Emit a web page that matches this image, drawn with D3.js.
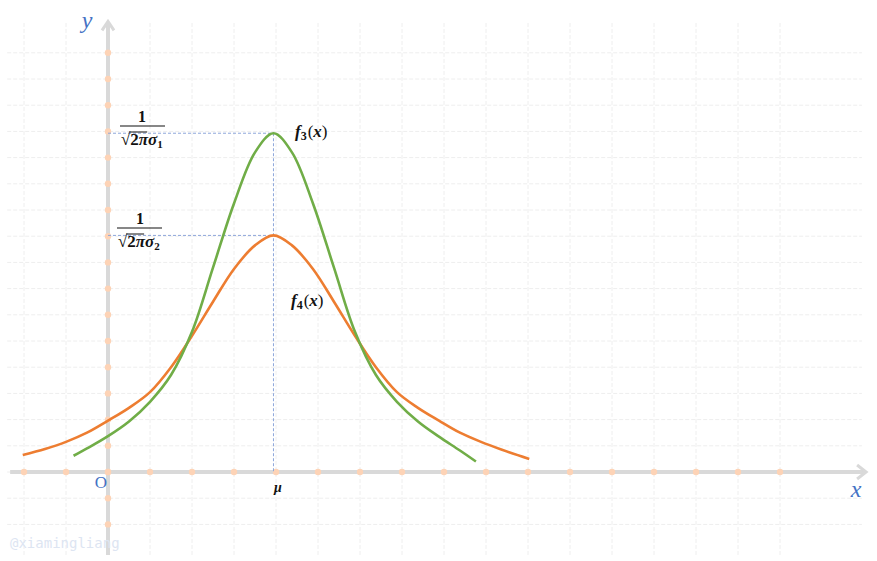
<!DOCTYPE html>
<html>
<head>
<meta charset="utf-8">
<script src="https://d3js.org/d3.v7.min.js"></script>
<style>
  body { margin: 0; background: #fff; }
  svg { display: block; }
  .math { font-family: "Liberation Serif", "DejaVu Serif", serif; font-weight: bold; fill: #111; }
</style>
</head>
<body>
<div id="chart"></div>
<script>
// curve f3 (green)
var f3X = [-0.82, -0.5, 0, 0.5, 1, 1.5, 2, 2.5, 3, 3.5, 3.94, 4.38, 4.88, 5.38, 5.88, 6.38, 6.88, 7.38, 7.88, 8.38, 8.76];
var f3Y = [0.62, 0.9, 1.37, 1.93, 2.68, 3.7, 5.35, 7.8, 10.25, 12.2, 12.93, 12.2, 10.25, 7.8, 5.35, 3.7, 2.68, 1.93, 1.35, 0.82, 0.4];
// curve f4 (orange)
var f4X = [-2.03, -1.5, -1, -0.5, 0, 0.5, 1, 1.5, 2, 2.5, 3, 3.5, 3.94, 4.38, 4.88, 5.38, 5.88, 6.38, 6.88, 7.38, 7.88, 8.38, 8.88, 9.38, 10.03];
var f4Y = [0.65, 0.88, 1.15, 1.5, 1.96, 2.45, 3.05, 4.0, 5.2, 6.5, 7.75, 8.65, 9.03, 8.65, 7.75, 6.5, 5.2, 4.0, 3.05, 2.45, 1.96, 1.5, 1.15, 0.85, 0.5];
var mu = 3.94;
var peaks = [12.93, 9.03];
var ticks = d3.range(-2, 17);   // grid lines and dots

var width = 877, height = 561;

var svg = d3.select("#chart").append("svg")
  .attr("width", width).attr("height", height);

// one unit = 42px across, 26.2px up
var x = d3.scaleLinear().domain([-2, 16]).range([24, 780]);
var y = d3.scaleLinear().domain([-2, 16]).range([524.4, 52.8]);

// grid
var grid = svg.append("g")
  .attr("stroke", "#eeeeee").attr("stroke-width", 1).attr("stroke-dasharray", "4,2");
grid.selectAll(".gv").data(ticks).enter().append("line")
  .attr("x1", d => x(d)).attr("x2", d => x(d))
  .attr("y1", y(17.14)).attr("y2", y(-3.17));
grid.selectAll(".gh").data(ticks).enter().append("line")
  .attr("y1", d => y(d)).attr("y2", d => y(d))
  .attr("x1", x(-2.4)).attr("x2", x(17.95));

// axes
var axisColor = "#d9d9d9";
svg.append("line")
  .attr("x1", x(-2.33)).attr("x2", x(18.02))
  .attr("y1", y(0)).attr("y2", y(0))
  .attr("stroke", axisColor).attr("stroke-width", 4);
svg.append("line")
  .attr("x1", x(0)).attr("x2", x(0))
  .attr("y1", y(-3.17)).attr("y2", y(17.15))
  .attr("stroke", axisColor).attr("stroke-width", 4);
// arrow heads
svg.append("path")
  .attr("d", "M" + (x(18.05) - 9) + "," + (y(0) - 7) + " L" + x(18.05) + "," + y(0) + " L" + (x(18.05) - 9) + "," + (y(0) + 7))
  .attr("fill", "none").attr("stroke", axisColor).attr("stroke-width", 3);
svg.append("path")
  .attr("d", "M" + (x(0) - 6) + "," + (y(17.2) + 9) + " L" + x(0) + "," + y(17.2) + " L" + (x(0) + 6) + "," + (y(17.2) + 9))
  .attr("fill", "none").attr("stroke", axisColor).attr("stroke-width", 3);

// dots on axes
svg.selectAll(".dx").data(ticks).enter().append("circle")
  .attr("cx", d => x(d)).attr("cy", y(0)).attr("r", 3.2).attr("fill", "#fdd3b6");
svg.selectAll(".dy").data(ticks).enter().append("circle")
  .attr("cx", x(0)).attr("cy", d => y(d)).attr("r", 3.2).attr("fill", "#fdd3b6");

// dashed guide lines
var guide = svg.append("g")
  .attr("stroke", "#8ea7da").attr("stroke-width", 1).attr("stroke-dasharray", "3,2");
guide.selectAll(".gp").data(peaks).enter().append("line")
  .attr("x1", x(0)).attr("x2", x(mu))
  .attr("y1", d => y(d)).attr("y2", d => y(d));
guide.append("line")
  .attr("x1", x(mu)).attr("x2", x(mu))
  .attr("y1", y(peaks[0])).attr("y2", y(0));

// curves
var line = d3.line().x(d => x(d[0])).y(d => y(d[1])).curve(d3.curveCatmullRom.alpha(0.5));
svg.append("path")
  .datum(d3.zip(f4X, f4Y))
  .attr("d", line).attr("fill", "none")
  .attr("stroke", "#ed7d31").attr("stroke-width", 2.6);
svg.append("path")
  .datum(d3.zip(f3X, f3Y))
  .attr("d", line).attr("fill", "none")
  .attr("stroke", "#70ad47").attr("stroke-width", 2.6);

// axis names
svg.append("text").attr("x", 87).attr("y", 28)
  .attr("text-anchor", "middle")
  .style("font", "italic 24px 'Liberation Serif', serif").style("fill", "#4472c4").text("y");
svg.append("text").attr("x", 856).attr("y", 497)
  .attr("text-anchor", "middle")
  .style("font", "italic 24px 'Liberation Serif', serif").style("fill", "#4472c4").text("x");
svg.append("text").attr("x", 101).attr("y", 488)
  .attr("text-anchor", "middle")
  .style("font", "17px 'Liberation Serif', serif").style("fill", "#4472c4").text("O");
svg.append("text").attr("class", "math").attr("x", 278).attr("y", 492)
  .attr("text-anchor", "middle")
  .style("font-style", "italic").style("font-size", "14px").text("μ");

// fraction labels 1 / (sqrt(2π)σ)
function fraction(cx, lineY, x0, x1, sub) {
  var g = svg.append("g");
  g.append("text").attr("class", "math").attr("x", cx).attr("y", lineY - 4)
    .attr("text-anchor", "middle").style("font-size", "16px").text("1");
  g.append("line").attr("x1", x0).attr("x2", x1).attr("y1", lineY).attr("y2", lineY)
    .attr("stroke", "#111").attr("stroke-width", 1.2);
  var t = g.append("text").attr("class", "math").attr("x", x0 + 1).attr("y", lineY + 19)
    .style("font-size", "17px");
  t.append("tspan").style("font-weight", "normal").text("√");
  t.append("tspan").text("2");
  t.append("tspan").style("font-style", "italic").text("πσ");
  t.append("tspan").attr("dy", 3).style("font-size", "11px").text(sub);
  var n = t.node();
  var a = n.getStartPositionOfChar(1).x, b = n.getStartPositionOfChar(3).x;
  g.append("line").attr("x1", a - 1).attr("x2", b - 1)
    .attr("y1", lineY + 6).attr("y2", lineY + 6)
    .attr("stroke", "#111").attr("stroke-width", 1);
}
fraction(142, 126, 120, 165, "1");
fraction(140, 228, 117, 162, "2");

// curve names
function fname(px, py, sub) {
  var t = svg.append("text").attr("class", "math").attr("x", px).attr("y", py)
    .style("font-size", "17px");
  t.append("tspan").style("font-style", "italic").text("f");
  t.append("tspan").attr("dy", 3).style("font-size", "12px").text(sub);
  t.append("tspan").attr("dy", -3).attr("dx", 1).style("font-weight", "normal").text("(");
  t.append("tspan").style("font-style", "italic").text("x");
  t.append("tspan").style("font-weight", "normal").text(")");
}
fname(295, 137, "3");
fname(291, 306, "4");

// watermark
svg.append("text").attr("x", 10).attr("y", 548)
  .style("font", "14px 'DejaVu Sans Mono', monospace").style("fill", "#dde5f2")
  .text("@xiamingliang");
</script>
</body>
</html>
